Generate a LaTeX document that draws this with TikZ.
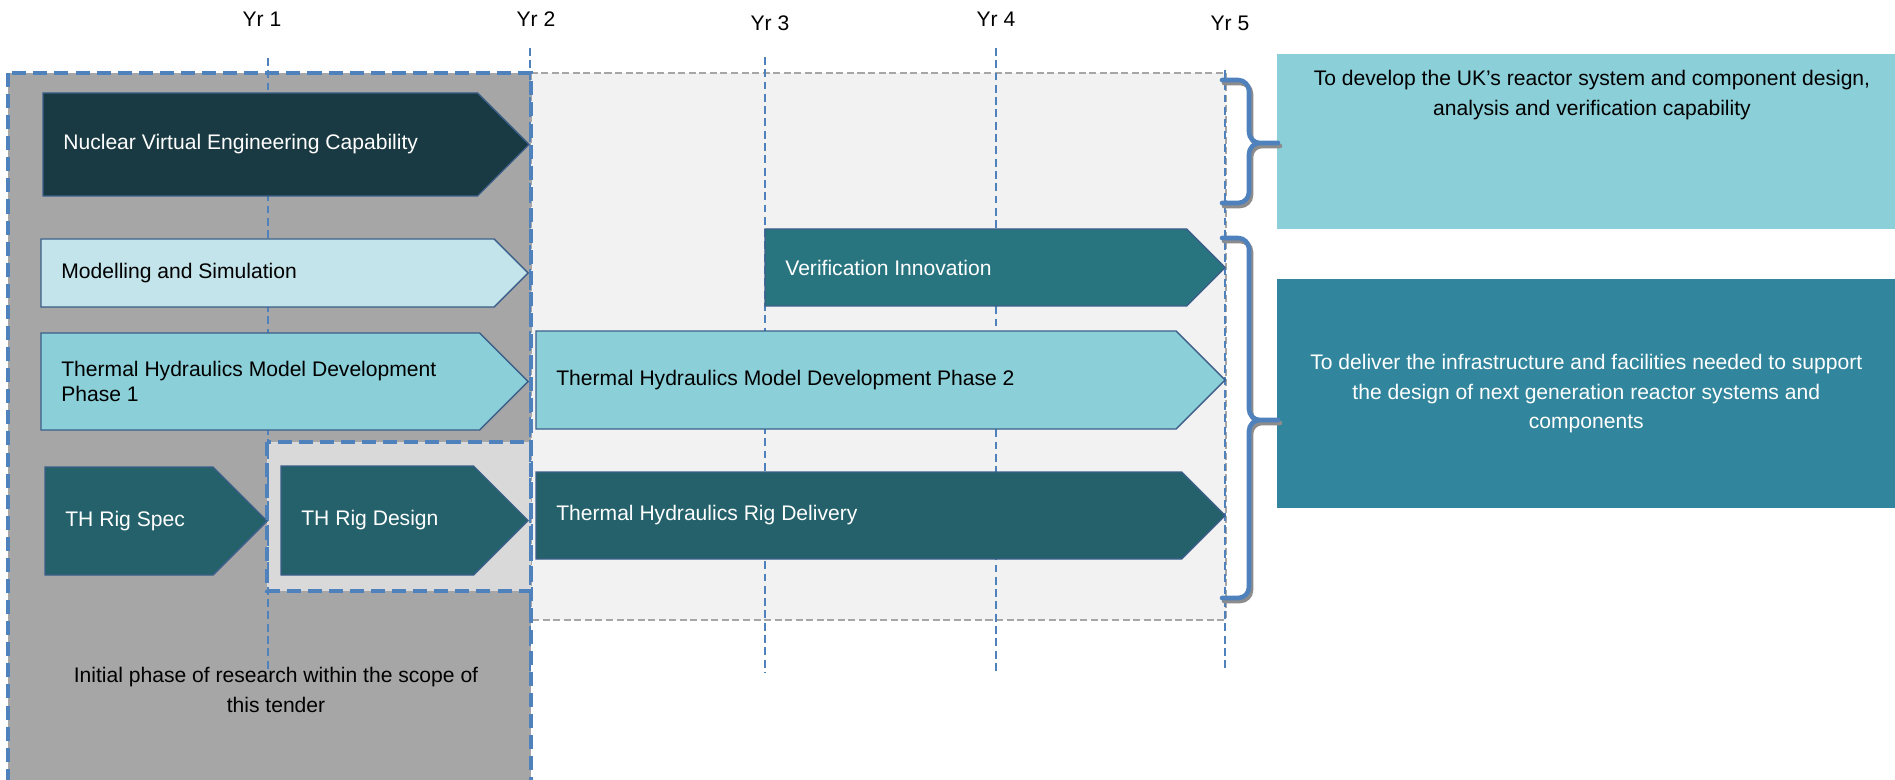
\documentclass[tikz,border=0pt]{standalone}
\usepackage{fontspec}
\setmainfont{Liberation Sans}
\usetikzlibrary{positioning}

\definecolor{outline}{HTML}{3B5F8A}
\definecolor{dashblue}{HTML}{4F81BD}
\definecolor{darkgrey}{HTML}{A6A6A6}
\definecolor{midgrey}{HTML}{D9D9D9}
\definecolor{lightgrey}{HTML}{F2F2F2}
\definecolor{nvecfill}{HTML}{193A42}
\definecolor{simfill}{HTML}{C2E4EA}
\definecolor{thfill}{HTML}{8BCFD8}
\definecolor{veriffill}{HTML}{287580}
\definecolor{rigfill}{HTML}{24616B}
\definecolor{goalAfill}{HTML}{8BCFD8}
\definecolor{goalBfill}{HTML}{31859C}

% chevron: name, style, x left, x tip, y top, y bottom, text
\newcommand{\phasebar}[7]{%
  \draw[bar,#2] (#3,#5) -- ({#4-(#6-#5)/2},#5) -- (#4,{(#5+#6)/2})
    -- ({#4-(#6-#5)/2},#6) -- (#3,#6) -- cycle;
  \node[#2,draw=none,fill=none,anchor=west,align=left,inner sep=0pt] (#1) at (#3+20,{(#5+#6)/2}) {#7};
}

% curly brace: top y, tip y, bottom y
\newcommand{\goalbrace}[3]{%
  \draw[bracestyle,black!45,shift={(2,3)}] (1222,#1) -- (1238,#1) to[out=0,in=90] (1249,#1+11)
    -- (1249,#2-11) to[out=-90,in=180] (1260,#2) -- (1278,#2)
    (1260,#2) to[out=180,in=90] (1249,#2+11) -- (1249,#3-11) to[out=-90,in=0] (1238,#3) -- (1222,#3);
  \draw[bracestyle,dashblue] (1222,#1) -- (1238,#1) to[out=0,in=90] (1249,#1+11)
    -- (1249,#2-11) to[out=-90,in=180] (1260,#2) -- (1278,#2)
    (1260,#2) to[out=180,in=90] (1249,#2+11) -- (1249,#3-11) to[out=-90,in=0] (1238,#3) -- (1222,#3);
}

\begin{document}
\begin{tikzpicture}[x=0.02cm,y=-0.02cm,
    every node/.style={font=\fontsize{12}{16.8}\selectfont},
    bar/.style={draw=outline,line width=0.8pt},
    nvec/.style={fill=nvecfill,text=white},
    sim/.style={fill=simfill,text=black},
    thmodel/.style={fill=thfill,text=black},
    verif/.style={fill=veriffill,text=white},
    rig/.style={fill=rigfill,text=white},
    zoneline/.style={draw=dashblue,line width=2.2pt,dash pattern=on 8pt off 4pt},
    yearline/.style={draw=dashblue,line width=0.7pt,dash pattern=on 4.5pt off 2.5pt},
    bracestyle/.style={line width=2.6pt,line cap=round},
    goal/.style={inner sep=0pt,anchor=north west,align=center}]

    \useasboundingbox (0,0) rectangle (1895,780);

    % time zones
    \fill[lightgrey] (531,73) rectangle (1226,620);
    \draw[darkgrey,line width=1.2pt,dash pattern=on 4pt off 2pt] (531,73) rectangle (1226,620);
    \filldraw[fill=darkgrey,zoneline] (8,73) rectangle (531,782);
    \filldraw[fill=midgrey,zoneline] (267,442) rectangle (531,591);

    % years
    \foreach \x/\t/\lx/\ly [count=\n] in {268/58/262/19,530/48/536/19,765/57/770/23,996/48/996/19,1225/70/1230/23} {
      \draw[yearline] (\x,\t) -- (\x,672);
      \node (yr\n) at (\lx,\ly) {Yr \n};
    }

    \phasebar{nvec}{nvec}{43}{529}{93}{196}{Nuclear Virtual Engineering Capability}
    \phasebar{modsim}{sim}{41}{528}{239}{307}{Modelling and Simulation}
    \phasebar{thone}{thmodel,font=\fontsize{12}{14}\selectfont}{41}{528}{333}{430}{Thermal Hydraulics Model Development\\Phase 1}
    \phasebar{verinno}{verif}{765}{1225}{229}{306}{Verification Innovation}
    \phasebar{thtwo}{thmodel}{536}{1225}{331}{429}{Thermal Hydraulics Model Development Phase 2}
    \phasebar{rigspec}{rig}{45}{267}{467}{575}{TH Rig Spec}
    \phasebar{rigdesign}{rig}{281}{528}{466}{575}{TH Rig Design}
    \phasebar{rigdelivery}{rig}{536}{1225}{472}{559}{Thermal Hydraulics Rig Delivery}

    \node[align=center] (initial) at (276,690) {Initial phase of research within the scope of\\this tender};

    % goals
    \node[goal,fill=goalAfill,minimum width=12.36cm,minimum height=3.5cm] (goalA) at (1277,54) {};
    \node[anchor=north,align=center,inner sep=0pt] (goalAtext) at (1592,70) {To develop the UK’s reactor system and component design,\\analysis and verification capability};
    \node[goal,fill=goalBfill,text=white,minimum width=12.36cm,minimum height=4.58cm] (goalB) at (1277,279) {To deliver the infrastructure and facilities needed to support\\the design of next generation reactor systems and\\components};

    \goalbrace{80}{143}{203}
    \goalbrace{238}{420}{598}

\end{tikzpicture}
\end{document}
